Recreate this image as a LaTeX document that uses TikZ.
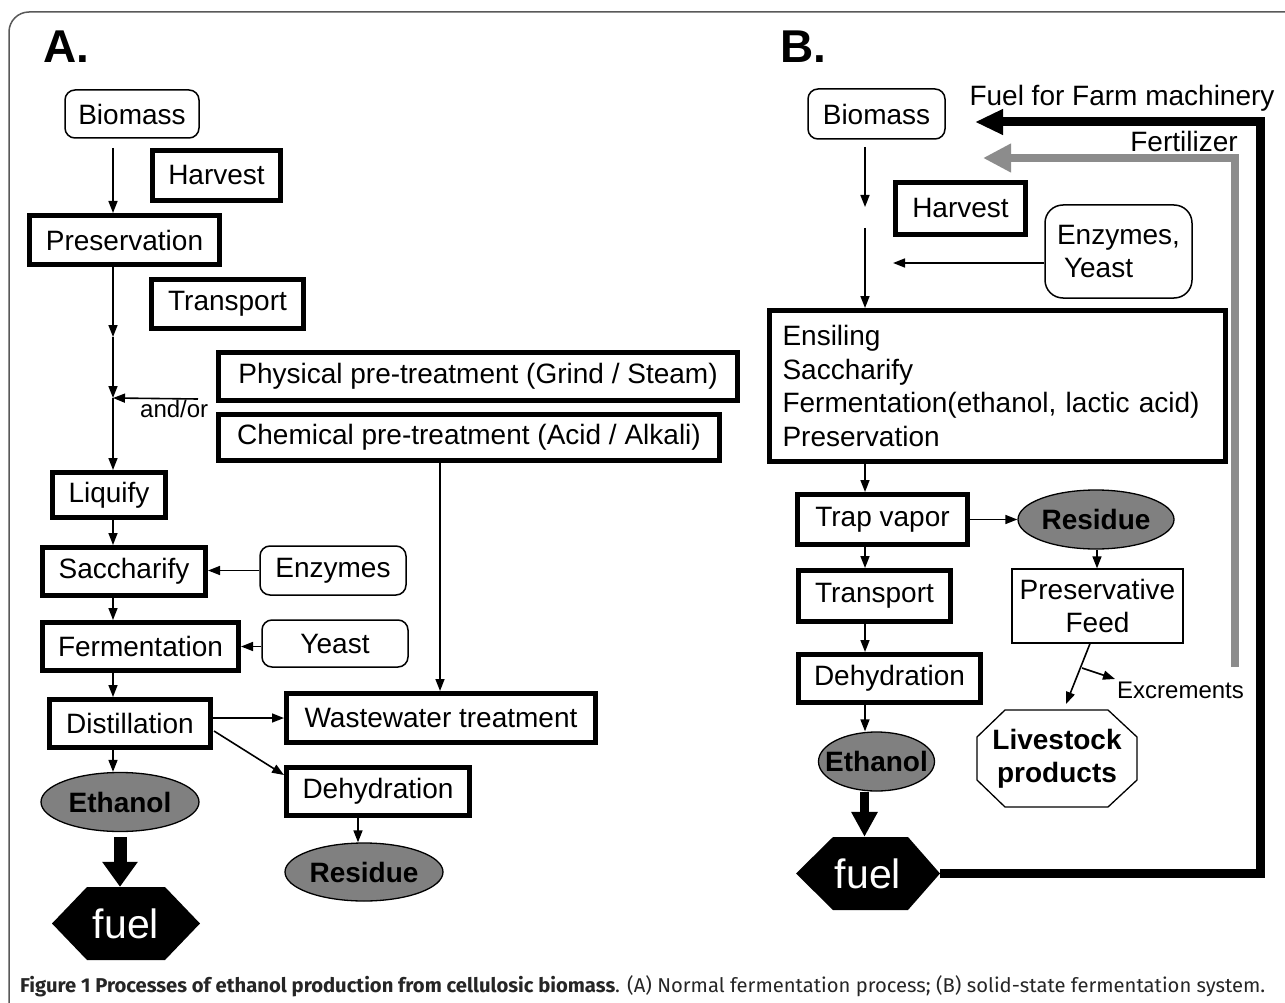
\documentclass[tikz,border=0pt]{standalone}
\usepackage{fontspec}
\usepackage{graphicx}
\setmainfont{Liberation Sans}
\newfontfamily\capfont{Fira Sans}
\usetikzlibrary{arrows.meta,shapes.geometric}
\begin{document}
\begin{tikzpicture}[x=1pt,y=-1pt,
  every node/.style={font=\fontsize{28}{33.5}\selectfont, inner sep=0pt},
  tbox/.style={draw, line width=5pt, rectangle},
  rbox/.style={draw, line width=1.5pt, rounded corners=10pt},
  oval/.style={ellipse, draw, line width=1.3pt, fill=black!50, font=\bfseries\fontsize{28}{33.5}\selectfont},
  arr/.style={line width=1.6pt, -{Triangle[length=12pt,width=9pt]}},
  small/.style={font=\fontsize{24}{28}\selectfont},
  fueltext/.style={text=white, font=\fontsize{41}{41}\selectfont},
  panel/.style={font=\bfseries\fontsize{46}{46}\selectfont, anchor=base west},
]
\useasboundingbox (0,0) rectangle (1285,1003);
\clip (0,0) rectangle (1285,1003);
\fill[white] (0,0) rectangle (1285,1003);
% frame
\draw[line width=1.5pt, black!65, rounded corners=20pt] (9,1040) -- (9,12) -- (1320,12);

% panel labels
\node[panel] (labA) at (43,63) {A.};
\node[panel] (labB) at (780,63) {B.};

% ---------- Panel A ----------
\node[rbox, minimum width=134pt, minimum height=48pt] (bioA) at (132,114) {Biomass};
\node[tbox, minimum width=128pt, minimum height=50pt] (harvA) at (216.5,175.5) {Harvest};
\node[tbox, minimum width=190pt, minimum height=49pt] (presA) at (124.5,240) {Preservation};
\node[tbox, minimum width=152pt, minimum height=49pt] (transA) at (227.5,304) {Transport};
\node[tbox, minimum width=519pt, minimum height=48pt] (phys) at (478,376.5) {Physical pre-treatment (Grind / Steam)};
\node[tbox, minimum width=501pt, minimum height=46pt] (chem) at (469,437.5) {Chemical pre-treatment (Acid / Alkali)};
\node[small, anchor=base west] (andorlbl) at (140,417) {and/or};
\node[tbox, minimum width=113pt, minimum height=45pt] (liq) at (109,495) {Liquify};
\node[tbox, minimum width=163pt, minimum height=48pt] (sacc) at (124,571.5) {Saccharify};
\node[rbox, minimum width=146pt, minimum height=49pt] (enzA) at (333,570.5) {Enzymes};
\node[tbox, minimum width=196pt, minimum height=48pt] (ferm) at (140.5,646.5) {Fermentation};
\node[rbox, minimum width=146pt, minimum height=47pt] (yeastA) at (335,643.5) {Yeast};
\node[tbox, minimum width=161pt, minimum height=48pt] (dist) at (130,723.5) {Distillation};
\node[tbox, minimum width=309pt, minimum height=49pt] (waste) at (441,718) {Wastewater treatment};
\node[tbox, minimum width=183pt, minimum height=48pt] (dehA) at (378,791.5) {Dehydration};
\node[oval, minimum width=158pt, minimum height=58pt] (resA) at (364,872) {\makebox[0pt]{Residue}};
\node[oval, minimum width=158pt, minimum height=59pt] (ethA) at (120,802) {\makebox[0pt]{Ethanol}};
\fill (52,923.5) -- (87,887) -- (165,887) -- (200,923.5) -- (165,960) -- (87,960) -- cycle;
\node[fueltext, minimum width=148pt, minimum height=73pt] (fuelA) at (126,923.5) {fuel};

% connectors A
\coordinate (spA) at (113,0);
\coordinate (a0) at (113,148);
\coordinate (a1) at (113,337);
\coordinate (a2) at (113,398);
\coordinate (andor) at (198,399);
\coordinate (dd1) at (214,731);
\coordinate (dd2) at (0,775);
\coordinate (ch) at (440,0);
\coordinate (dh) at (358,0);
\draw[arr] (a0) -- (presA.north -| spA);
\draw[arr] (presA.south -| spA) -- (a1);
\draw[arr] (a1) -- (a2);
\draw[arr] (andor) -- (a2);
\draw[arr] (a2) -- (liq.north -| spA);
\draw[arr] (liq.south -| spA) -- (sacc.north -| spA);
\draw[arr] (enzA.west) -- (sacc.east |- enzA.west);
\draw[arr] (sacc.south -| spA) -- (ferm.north -| spA);
\draw[arr] (yeastA.west |- ferm.east) -- (ferm.east);
\draw[arr] (ferm.south -| spA) -- (dist.north -| spA);
\draw[arr] (dist.east |- waste.west) -- (waste.west);
\draw[arr] (dd1) -- (dehA.west |- dd2);
\draw[arr] (dist.south -| spA) -- (ethA.north -| spA);
\draw[arr] (chem.south -| ch) -- (waste.north -| ch);
\draw[arr] (dehA.south -| dh) -- (resA.north -| dh);
\draw[line width=13pt, -{Triangle[length=25pt,width=34pt]}, shorten <=5pt] (ethA.south) -- (ethA.south |- fuelA.north);

% ---------- Panel B ----------
\node[rbox, minimum width=137pt, minimum height=50pt] (bioB) at (876.5,114) {Biomass};
\node[tbox, minimum width=130pt, minimum height=52pt] (harvB) at (960.5,208.5) {Harvest};
\node[rbox, rounded corners=18pt, minimum width=147pt, minimum height=93pt, align=left] (enzB) at (1118.5,251.5) {Enzymes,\\\hspace*{7pt}Yeast};
\node[tbox, minimum width=456pt, minimum height=151pt, text width=430pt, align=left] (ens) at (997.5,386) {Ensiling\\Saccharify\\Fermentation(ethanol, lactic acid)\\Preservation};
\node[tbox, minimum width=170pt, minimum height=50pt] (trap) at (882.5,519.5) {Trap vapor};
\node[oval, minimum width=156pt, minimum height=59pt] (resB) at (1096,519.5) {\makebox[0pt]{Residue}};
\node[draw, line width=1.3pt, minimum width=171pt, minimum height=74pt, align=center] (pfeed) at (1097.5,606) {Preservative\\Feed};
\node[tbox, minimum width=152pt, minimum height=51pt] (transB) at (874.5,596) {Transport};
\node[tbox, minimum width=182pt, minimum height=48pt] (dehB) at (889.5,678.5) {Dehydration};
\node[oval, minimum width=116pt, minimum height=59pt] (ethB) at (876.5,761.5) {\makebox[0pt]{Ethanol}};
\fill (796,873.5) -- (833,837) -- (908,837) -- (940,873.5) -- (908,910) -- (833,910) -- cycle;
\node[fueltext, minimum width=144pt, minimum height=73pt] (fuelB) at (868,873.5) {fuel};
\draw[line width=1.3pt, fill=white] (1005,710) -- (1108,710) -- (1137,737) -- (1137,780) -- (1108,807) -- (1005,807) -- (977,780) -- (977,737) -- cycle;
\node[minimum width=160pt, minimum height=97pt, align=center, font=\bfseries\fontsize{28}{33}\selectfont] (live) at (1057,758.5) {Livestock\\products};
\node[small, anchor=base west] (exc) at (1117,698) {Excrements};
\node[anchor=base] (fuelfarm) at (1122,106) {Fuel for Farm machinery};
\node[anchor=base] (fert) at (1184,152) {Fertilizer};

% connectors B
\coordinate (spB) at (865,0);
\coordinate (b0) at (865,147);
\coordinate (b1) at (865,207);
\coordinate (b2) at (865,228);
\coordinate (b3) at (893,263);
\coordinate (rf) at (1097,0);
\coordinate (tb) at (864.5,0);
\coordinate (pf1) at (1090,0);
\coordinate (lv) at (1066,704);
\coordinate (br) at (1082,668);
\coordinate (ex) at (1115,679);
\coordinate (k1) at (1260,0);
\coordinate (k2) at (975,122);
\coordinate (g0) at (1235,667);
\coordinate (g1) at (983,158);
\draw[arr] (b0) -- (b1);
\draw[arr] (b2) -- (ens.north -| spB);
\draw[arr] (enzB.west |- b3) -- (b3);
\draw[arr] (ens.south -| spB) -- (trap.north -| spB);
\draw[arr] (trap.east) -- (resB.west);
\draw[arr] (resB.south -| rf) -- (pfeed.north -| rf);
\draw[arr] (trap.south -| spB) -- (transB.north -| spB);
\draw[arr] (transB.south -| spB) -- (dehB.north -| spB);
\draw[arr] (dehB.south -| spB) -- (ethB.north -| spB);
\draw[line width=9pt, -{Triangle[length=25pt,width=25pt]}] (ethB.south -| tb) -- (fuelB.north -| tb);
\draw[arr] (pfeed.south -| pf1) -- (lv);
\draw[arr] (br) -- (ex);
\draw[line width=8pt, black!45, line join=miter, -{Triangle[length=28pt,width=27pt]}] (g0) -- (g0 |- g1) -- (g1);
\draw[line width=9pt, line join=miter, -{Triangle[length=28pt,width=24pt]}] (fuelB.east) -- (fuelB.east -| k1) -- (k1 |- k2) -- (k2);

% caption
\node[anchor=base west, text=black!85] (cap) at (20,992) {\resizebox{1245pt}{\height}{\capfont\fontsize{20}{24}\selectfont\textbf{Figure 1 Processes of ethanol production from cellulosic biomass}. (A) Normal fermentation process; (B) solid-state fermentation system.}};
\end{tikzpicture}
\end{document}
